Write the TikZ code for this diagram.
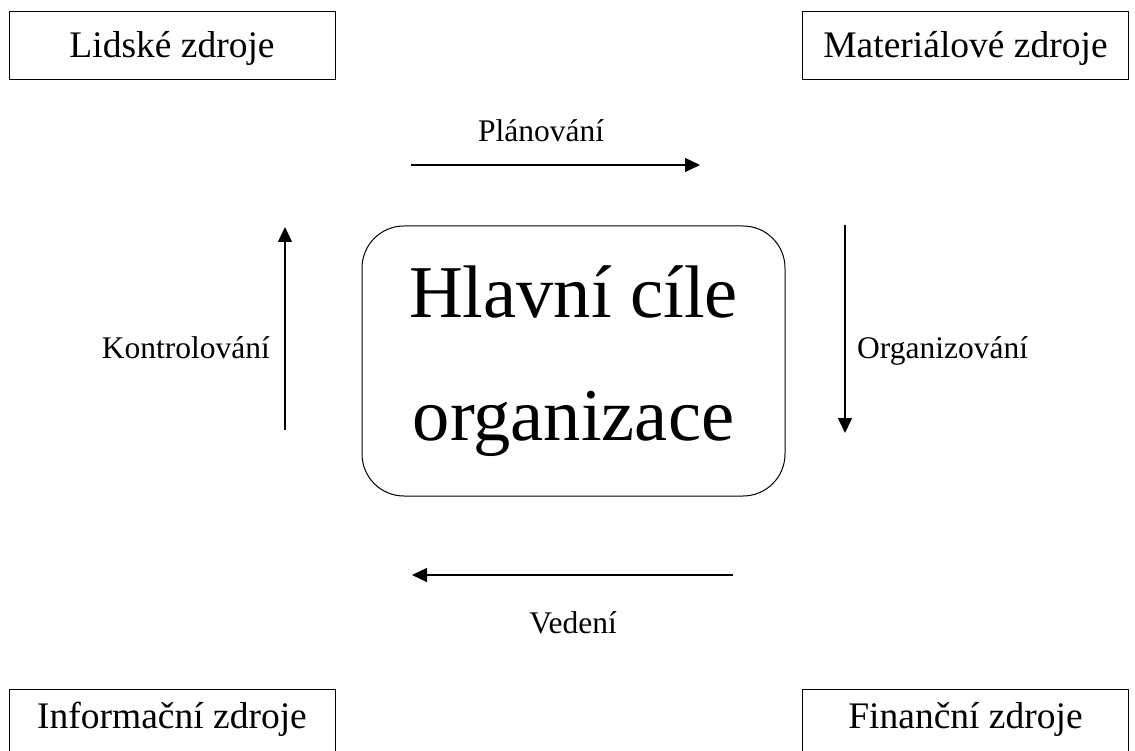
\documentclass[tikz,border=0pt]{standalone}
\usepackage{fontspec}
\setmainfont{Liberation Serif}
\usetikzlibrary{arrows.meta}
\tikzset{
    resource/.style={draw, line width=1pt, minimum width=326pt, minimum height=68pt, inner sep=0pt,
        font=\fontsize{37.5}{45}\selectfont, text height=25.6pt, text depth=1.6pt},
    goalbox/.style={draw, line width=1pt, rounded corners=42pt, minimum width=423pt, minimum height=270pt,
        align=center, font=\fontsize{74.5}{123}\selectfont},
    activity/.style={inner sep=0pt, font=\fontsize{31.5}{38}\selectfont},
    flow/.style={-{Triangle[length=15pt,width=14pt]}, line width=1.3pt}
}
\begin{document}
\begin{tikzpicture}[x=1pt,y=-1pt]
                \useasboundingbox (0,0) rectangle (1135,751);
                \node[resource] (human) at (172,46) {Lidské zdroje};
                \node[resource] (material) at (965.5,46) {Materiálové zdroje};
                \node[resource, text depth=15.6pt] (info) at (172,723) {Informační zdroje};
                \node[resource, text depth=15.6pt] (finance) at (965.5,723) {Finanční zdroje};
                \node[goalbox] (goals) at (573.5,361) {Hlavní cíle\\organizace};

                \node[activity, anchor=base] (plan) at (541,142) {Plánování};
                \node[activity, anchor=base west] (org) at (857,358) {Organizování};
                \node[activity, anchor=base] (lead) at (573,633) {Vedení};
                \node[activity, anchor=base east] (ctrl) at (270,358) {Kontrolování};

                \coordinate (plan-a) at (411,165); \coordinate (plan-b) at (700,165);
                \coordinate (org-a) at (845,225); \coordinate (org-b) at (845,433);
                \coordinate (lead-a) at (733,575); \coordinate (lead-b) at (412,575);
                \coordinate (ctrl-a) at (285,430); \coordinate (ctrl-b) at (285,227);

                \draw[flow] (plan-a) to (plan-b); \draw[flow] (org-a) to (org-b);
                \draw[flow] (lead-a) to (lead-b); \draw[flow] (ctrl-a) to (ctrl-b);
            \end{tikzpicture}
\end{document}
